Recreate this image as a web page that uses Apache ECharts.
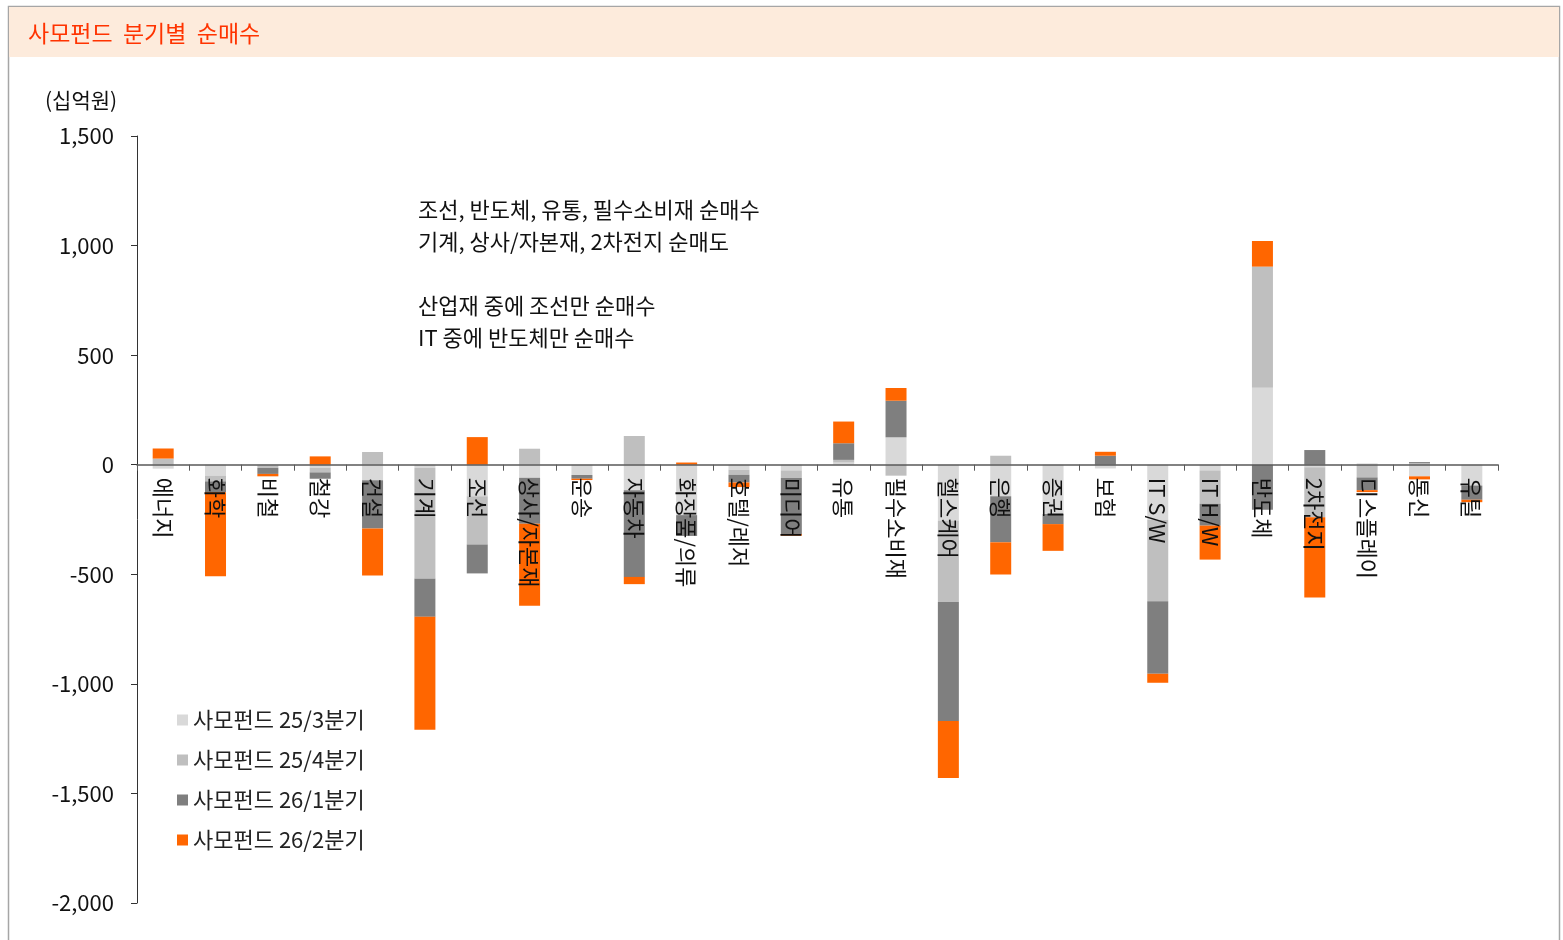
<!DOCTYPE html>
<html>
<head>
<meta charset="utf-8">
<script src="https://cdn.jsdelivr.net/npm/echarts@6/dist/echarts.min.js"></script>
<style>
  html, body { margin: 0; padding: 0; background: #fff; }
  #chart { width: 1563px; height: 940px; }
</style>
</head>
<body>
<div id="chart"></div>
<script>
const categories = ['에너지', '화학', '비철', '철강', '건설', '기계', '조선', '상사/자본재', '운송', '자동차',
  '화장품/의류', '호텔/레저', '미디어', '유통', '필수소비재', '헬스케어', '은행', '증권', '보험', 'IT S/W',
  'IT H/W', '반도체', '2차전지', '디스플레이', '통신', '유틸']

// 사모펀드 분기별 순매수 (십억원)
const q25_3 = [-18, -50, -5, -15, -71, -15, -144, -59, -47, -117, -230, -23, -26, 10, 125, -255, -144, -225, -17, -251, -26, 351, -12, 6, -53, -95]
const q25_4 = [28, -26, -10, -20, 58, -505, -220, 73, 0, 131, 0, -23, -35, 12, -50, -372, 41, 0, 0, -372, -152, 553, -228, -58, 7, 0]
const q26_1 = [0, -50, -27, -29, -220, -174, -132, -210, -17, -395, -95, -35, -255, 76, 167, -542, -210, -46, 41, -331, -100, -205, 67, -58, 5, -65]
const q26_2 = [46, -383, -11, 38, -215, -515, 126, -375, -6, -33, 10, -21, -8, 99, 58, -261, -147, -122, 18, -41, -155, 117, -366, -9, -14, -11]

const seriesNames = ['사모펀드 25/3분기', '사모펀드 25/4분기', '사모펀드 26/1분기', '사모펀드 26/2분기']
const seriesColors = ['#d9d9d9', '#bfbfbf', '#7f7f7f', '#ff6600']

const notes = ['조선, 반도체, 유통, 필수소비재 순매수', '기계, 상사/자본재, 2차전지 순매도', '', '산업재 중에 조선만 순매수', 'IT 중에 반도체만 순매수']

const yMin = -2000
const yMax = 1500

const font = '"Noto Sans CJK KR", "Noto Sans", sans-serif'

const gridTop = 136
const gridBottom = 37
const plotH = 940 - gridTop - gridBottom
// 0 선 위치까지 x축을 끌어올림
const zeroOffset = -(plotH * (0 - yMin) / (yMax - yMin))

const chart = echarts.init(document.getElementById('chart'))

const option = {
  backgroundColor: '#fff',
  textStyle: { fontFamily: font },
  animation: false,
  grid: {
    left: 137,
    right: 65,
    top: gridTop,
    bottom: gridBottom,
    containLabel: false,
    outerBoundsMode: 'none',
  },
  legend: {
    orient: 'vertical',
    left: 177,
    top: 709,
    padding: 0,
    itemWidth: 11,
    itemHeight: 11,
    itemGap: 18,
    icon: 'rect',
    textStyle: { fontSize: 22, color: '#222', fontFamily: font },
    data: seriesNames,
  },
  xAxis: {
    type: 'category',
    data: categories,
    z: 5,
    offset: zeroOffset,
    axisLine: { onZero: false, lineStyle: { color: '#595959', width: 1.5 } },
    axisTick: { show: true, length: 6, lineStyle: { color: '#595959' } },
    axisLabel: {
      interval: 0,
      rotate: -90,
      margin: 13,
      fontSize: 22,
      color: '#111',
      fontFamily: font,
    },
  },
  yAxis: {
    type: 'value',
    min: yMin,
    max: yMax,
    interval: 500,
    splitLine: { show: false },
    axisLine: { show: true, lineStyle: { color: '#333', width: 1 } },
    axisTick: { show: true, length: 6, lineStyle: { color: '#333' } },
    axisLabel: {
      fontSize: 22,
      color: '#111',
      margin: 23,
      fontFamily: font,
      formatter: (v) => v.toLocaleString('en-US'),
    },
  },
  series: [q25_3, q25_4, q26_1, q26_2].map((d, i) => ({
    name: seriesNames[i],
    type: 'bar',
    stack: 'total',
    data: d,
    barWidth: 21,
    itemStyle: { color: seriesColors[i] },
  })),
  graphic: [
    {
      type: 'rect',
      z: -10,
      shape: { x: 8.5, y: 6.5, width: 1551, height: 940 },
      style: { fill: 'none', stroke: '#a6a6a6', lineWidth: 1.5 },
    },
    {
      type: 'rect',
      z: -9,
      shape: { x: 9, y: 7, width: 1550, height: 50 },
      style: { fill: '#fdebdc' },
    },
    {
      type: 'text',
      left: 28,
      top: 22,
      style: { text: '사모펀드  분기별  순매수', fill: '#ff3300', fontSize: 23, fontFamily: font },
    },
    {
      type: 'text',
      left: 45,
      top: 90,
      style: { text: '(십억원)', fill: '#111', fontSize: 21, fontFamily: font },
    },
    {
      type: 'text',
      left: 418,
      top: 194,
      style: { text: notes.join('\n'), fill: '#111', fontSize: 22, lineHeight: 32, fontFamily: font },
    },
  ],
}

chart.setOption(option)
</script>
</body>
</html>
